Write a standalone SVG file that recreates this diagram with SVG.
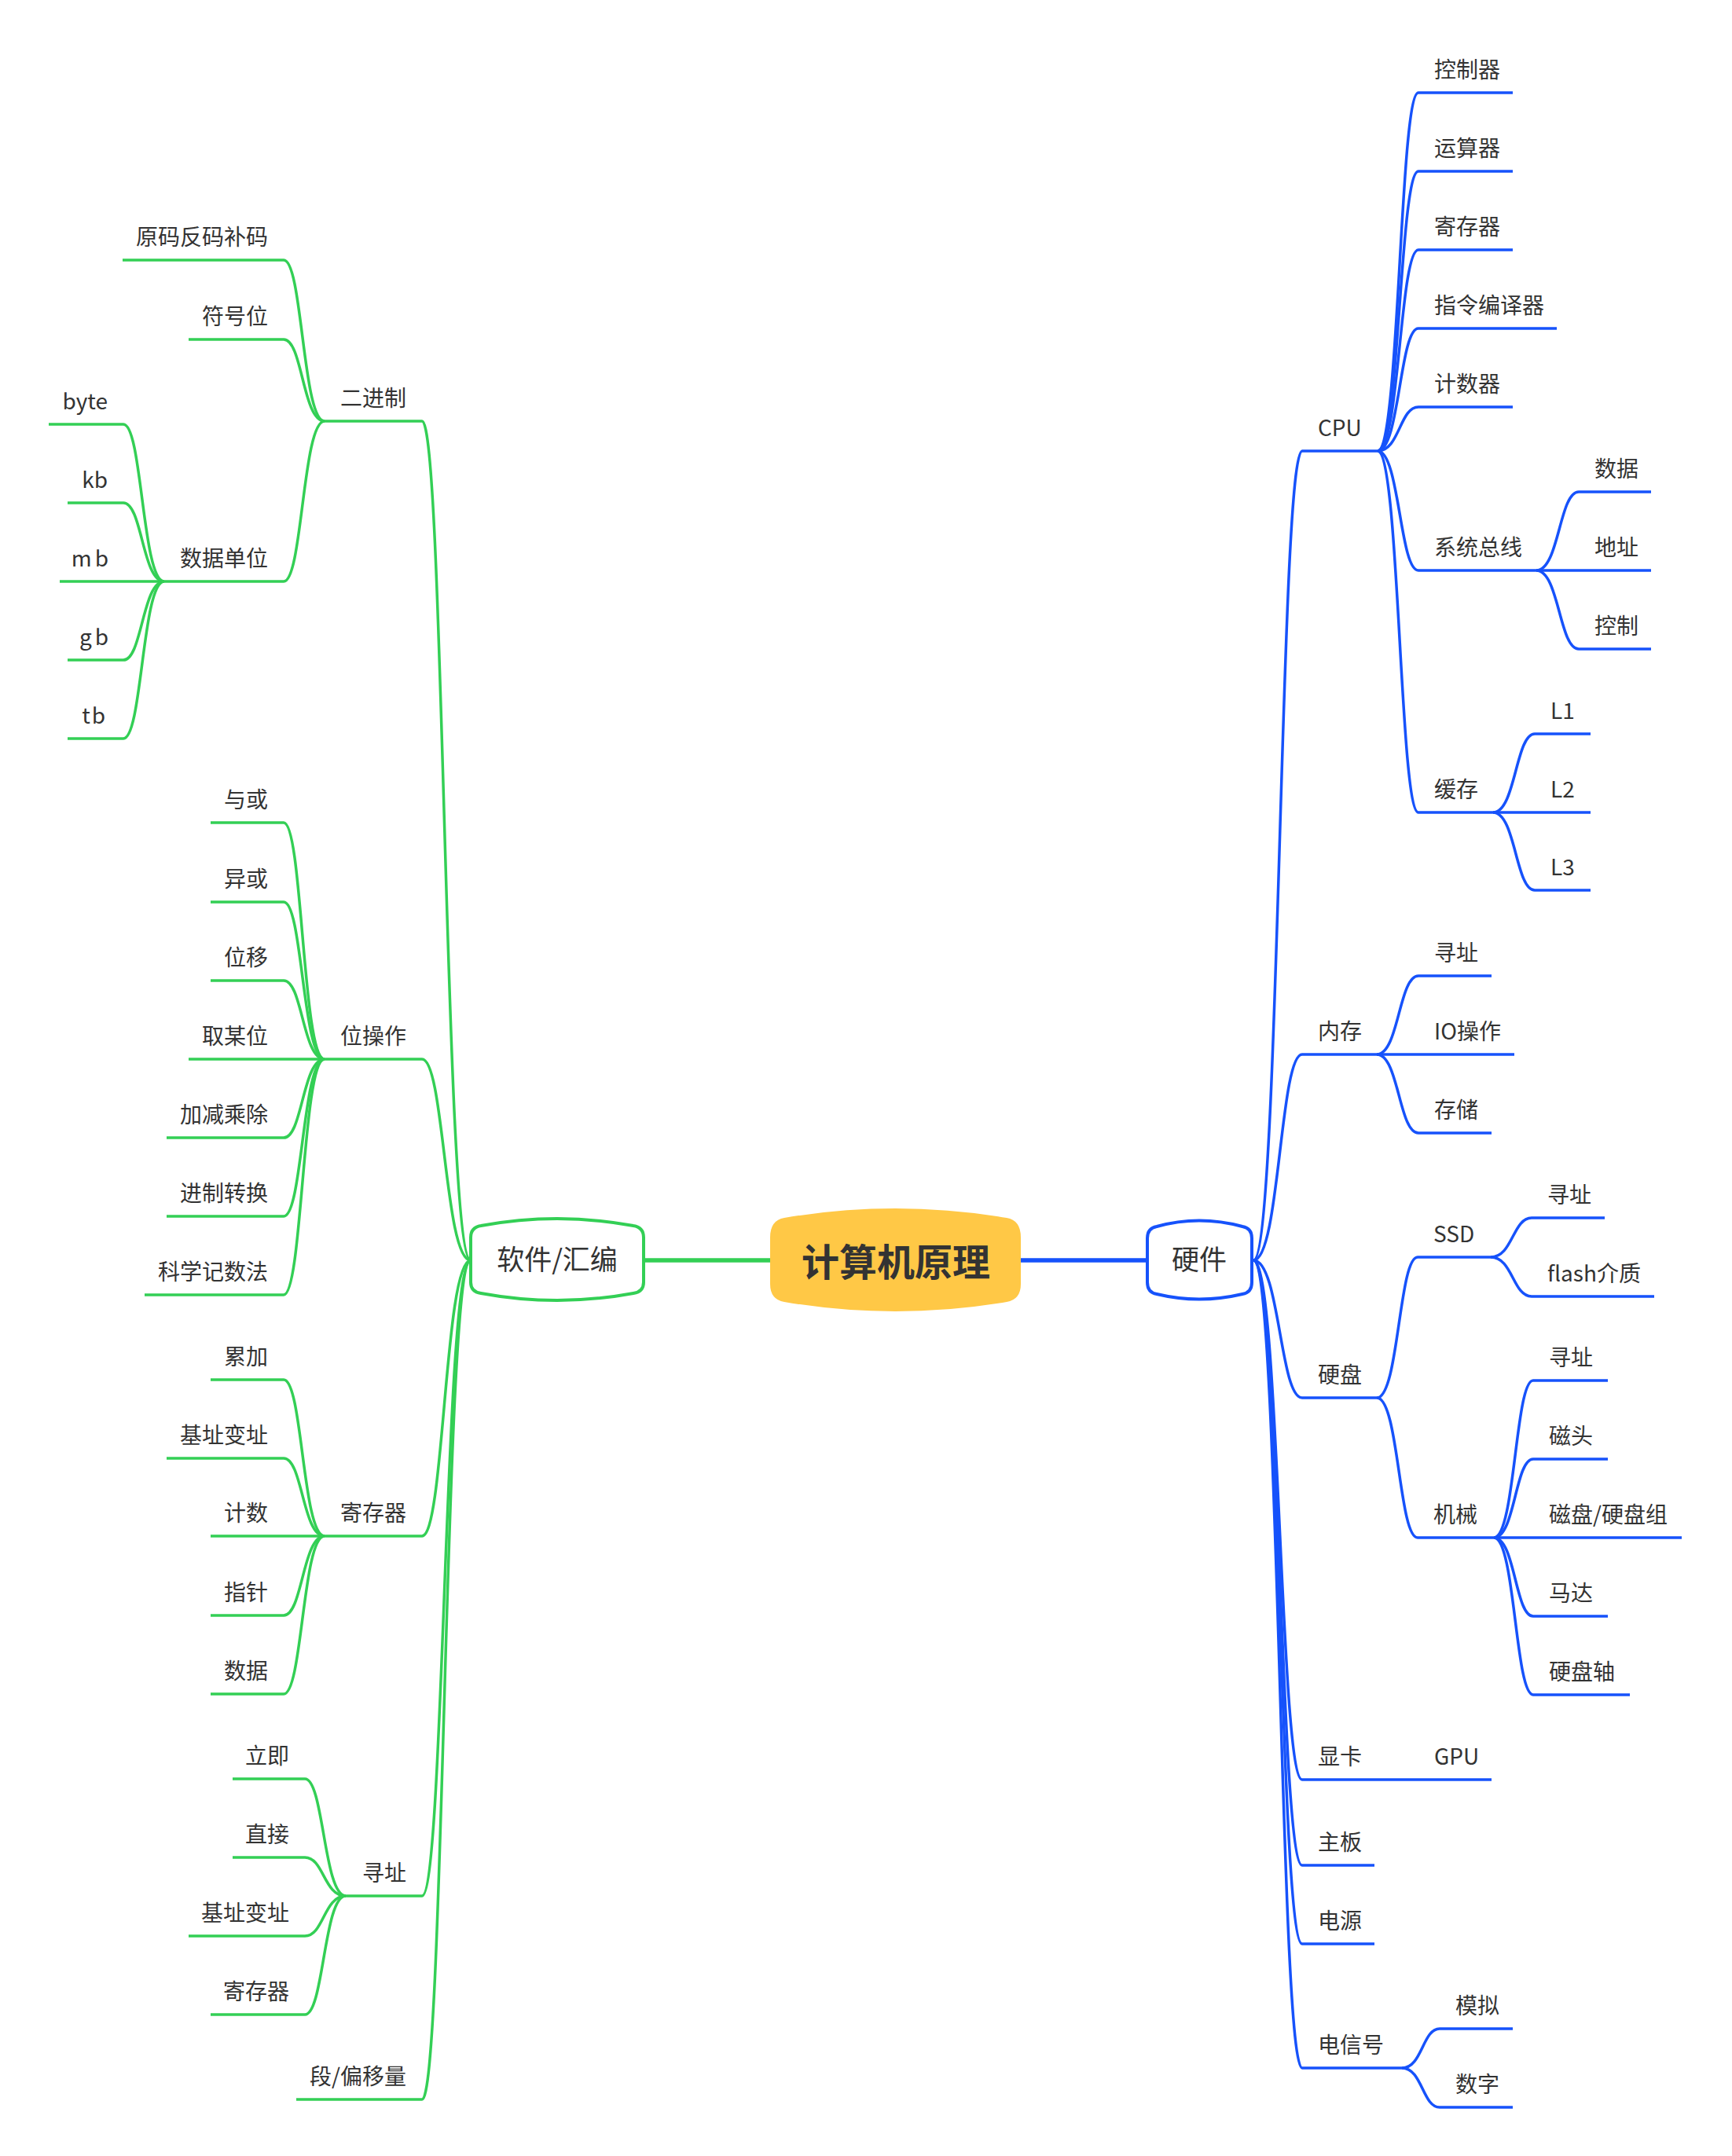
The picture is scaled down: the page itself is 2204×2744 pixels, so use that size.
<svg xmlns="http://www.w3.org/2000/svg" width="2204" height="2744" viewBox="0 0 2204 2744">
<style>
.t{font-family:"Noto Sans CJK SC","Noto Sans",sans-serif;font-size:28px;fill:#333333}
.e{text-anchor:end}
.m{text-anchor:middle}
.b{stroke:#1652FB;stroke-width:3.5;fill:none}
.g{stroke:#33CF55;stroke-width:3.5;fill:none}
.bb{stroke:#1652FB;stroke-width:5.5;fill:none}
.gb{stroke:#33CF55;stroke-width:5.5;fill:none}
</style>
<rect width="2204" height="2744" fill="#ffffff"/>
<g id="connectors">
<path class="bb" d="M1299 1604 H1460"/>
<path class="gb" d="M980 1604 H819"/>
<path class="b" d="M1595 1604 C1628.5 1604,1628.5 574,1657 574"/>
<path class="b" d="M1595 1604 C1628.5 1604,1628.5 1342,1657 1342"/>
<path class="b" d="M1595 1604 C1628.5 1604,1628.5 1779,1657 1779"/>
<path class="b" d="M1595 1604 C1628.5 1604,1628.5 2265,1657 2265"/>
<path class="b" d="M1595 1604 C1628.5 1604,1628.5 2374,1657 2374"/>
<path class="b" d="M1595 1604 C1628.5 1604,1628.5 2474,1657 2474"/>
<path class="b" d="M1595 1604 C1628.5 1604,1628.5 2632,1657 2632"/>
<path class="b" d="M1753 574 C1781 574,1781 118,1805 118"/>
<path class="b" d="M1753 574 C1781 574,1781 218,1805 218"/>
<path class="b" d="M1753 574 C1781 574,1781 318,1805 318"/>
<path class="b" d="M1753 574 C1781 574,1781 418,1805 418"/>
<path class="b" d="M1753 574 C1781 574,1781 518,1805 518"/>
<path class="b" d="M1753 574 C1781 574,1781 726,1805 726"/>
<path class="b" d="M1753 574 C1781 574,1781 1034,1805 1034"/>
<path class="b" d="M1955 726 C1984 726,1984 626,2009 626"/>
<path class="b" d="M1955 726 H2009"/>
<path class="b" d="M1955 726 C1984 726,1984 826,2009 826"/>
<path class="b" d="M1900 1034 C1928.6 1034,1928.6 934,1953 934"/>
<path class="b" d="M1900 1034 H1953"/>
<path class="b" d="M1900 1034 C1928.6 1034,1928.6 1133,1953 1133"/>
<path class="b" d="M1752 1342 C1780 1342,1780 1242,1805 1242"/>
<path class="b" d="M1752 1342 H1805"/>
<path class="b" d="M1752 1342 C1780 1342,1780 1442,1805 1442"/>
<path class="b" d="M1752 1779 C1780 1779,1780 1600,1804 1600"/>
<path class="b" d="M1752 1779 C1780 1779,1780 1957,1804 1957"/>
<path class="b" d="M1897 1600 C1925 1600,1925 1550,1949 1550"/>
<path class="b" d="M1897 1600 C1925 1600,1925 1650,1949 1650"/>
<path class="b" d="M1901 1957 C1928 1957,1928 1757,1951 1757"/>
<path class="b" d="M1901 1957 C1928 1957,1928 1857,1951 1857"/>
<path class="b" d="M1901 1957 H1951"/>
<path class="b" d="M1901 1957 C1928 1957,1928 2057,1951 2057"/>
<path class="b" d="M1901 1957 C1928 1957,1928 2157,1951 2157"/>
<path class="b" d="M1749 2265 H1805"/>
<path class="b" d="M1784 2632 C1810 2632,1810 2582,1832 2582"/>
<path class="b" d="M1784 2632 C1810 2632,1810 2682,1832 2682"/>
<path class="g" d="M599 1604 C565.5 1604,565.5 536,537 536"/>
<path class="g" d="M599 1604 C565.5 1604,565.5 1348,537 1348"/>
<path class="g" d="M599 1604 C565.5 1604,565.5 1955,537 1955"/>
<path class="g" d="M599 1604 C565.5 1604,565.5 2413,537 2413"/>
<path class="g" d="M599 1604 C565.5 1604,565.5 2672,537 2672"/>
<path class="g" d="M413 536 C385 536,385 331,361 331"/>
<path class="g" d="M413 536 C385 536,385 432,361 432"/>
<path class="g" d="M413 536 C385 536,385 740,361 740"/>
<path class="g" d="M209 740 C181 740,181 540,157 540"/>
<path class="g" d="M209 740 C181 740,181 640,157 640"/>
<path class="g" d="M209 740 H157"/>
<path class="g" d="M209 740 C181 740,181 840,157 840"/>
<path class="g" d="M209 740 C181 740,181 940,157 940"/>
<path class="g" d="M413 1348 C385 1348,385 1047,361 1047"/>
<path class="g" d="M413 1348 C385 1348,385 1148,361 1148"/>
<path class="g" d="M413 1348 C385 1348,385 1248,361 1248"/>
<path class="g" d="M413 1348 H361"/>
<path class="g" d="M413 1348 C385 1348,385 1448,361 1448"/>
<path class="g" d="M413 1348 C385 1348,385 1548,361 1548"/>
<path class="g" d="M413 1348 C385 1348,385 1648,361 1648"/>
<path class="g" d="M413 1955 C385 1955,385 1756,361 1756"/>
<path class="g" d="M413 1955 C385 1955,385 1856,361 1856"/>
<path class="g" d="M413 1955 H361"/>
<path class="g" d="M413 1955 C385 1955,385 2056,361 2056"/>
<path class="g" d="M413 1955 C385 1955,385 2156,361 2156"/>
<path class="g" d="M440 2413 C412 2413,412 2264,388 2264"/>
<path class="g" d="M440 2413 C412 2413,412 2364,388 2364"/>
<path class="g" d="M440 2413 C412 2413,412 2464,388 2464"/>
<path class="g" d="M440 2413 C412 2413,412 2564,388 2564"/>
</g>

<g id="root">
<path d="M980 1575 Q980 1553 998 1550 Q1139 1526 1281 1550 Q1299 1553 1299 1575 L1299 1634 Q1299 1654 1281 1657 Q1139 1681 998 1657 Q980 1654 980 1634 Z" fill="#FFC846"/>
<text class="t m" x="1140" y="1624" style="font-size:48px;font-weight:700">计算机原理</text>
</g>
<g id="hardware">
<path d="M1460 1576 Q1460 1563 1472 1561 Q1526 1546 1581 1561 Q1593 1563 1593 1576 L1593 1632 Q1593 1645 1581 1647 Q1526 1660 1472 1647 Q1460 1645 1460 1632 Z" fill="#ffffff" stroke="#1652FB" stroke-width="4"/>
<text class="t m" x="1526" y="1616" style="font-size:35px">硬件</text>
</g>
<g id="software">
<path d="M599 1575 Q599 1562 612 1560 Q709 1542 806 1560 Q819 1562 819 1575 L819 1632 Q819 1644 806 1646 Q709 1664 612 1646 Q599 1644 599 1632 Z" fill="#ffffff" stroke="#33CF55" stroke-width="4"/>
<text class="t m" x="709" y="1616" style="font-size:35px">软件/汇编</text>
</g>

<g id="n-cpu"><path class="b" d="M1657 574 H1753"/><text class="t" x="1677" y="555">CPU</text></g>
<g id="n-ctrl"><path class="b" d="M1805 118 H1925"/><text class="t" x="1825" y="99">控制器</text></g>
<g id="n-alu"><path class="b" d="M1805 218 H1925"/><text class="t" x="1825" y="199">运算器</text></g>
<g id="n-reg"><path class="b" d="M1805 318 H1925"/><text class="t" x="1825" y="299">寄存器</text></g>
<g id="n-inst"><path class="b" d="M1805 418 H1981"/><text class="t" x="1825" y="399">指令编译器</text></g>
<g id="n-cnt"><path class="b" d="M1805 518 H1925"/><text class="t" x="1825" y="499">计数器</text></g>
<g id="n-bus"><path class="b" d="M1805 726 H1955"/><text class="t" x="1825" y="707">系统总线</text></g>
<g id="n-bus-data"><path class="b" d="M2009 626 H2101"/><text class="t" x="2029" y="607">数据</text></g>
<g id="n-bus-addr"><path class="b" d="M2009 726 H2101"/><text class="t" x="2029" y="707">地址</text></g>
<g id="n-bus-ctrl"><path class="b" d="M2009 826 H2101"/><text class="t" x="2029" y="807">控制</text></g>
<g id="n-cache"><path class="b" d="M1805 1034 H1900"/><text class="t" x="1825" y="1015">缓存</text></g>
<g id="n-l1"><path class="b" d="M1953 934 H2024"/><text class="t" x="1973" y="915">L1</text></g>
<g id="n-l2"><path class="b" d="M1953 1034 H2024"/><text class="t" x="1973" y="1015">L2</text></g>
<g id="n-l3"><path class="b" d="M1953 1133 H2024"/><text class="t" x="1973" y="1114">L3</text></g>

<g id="n-mem"><path class="b" d="M1657 1342 H1752"/><text class="t" x="1677" y="1323">内存</text></g>
<g id="n-mem-addr"><path class="b" d="M1805 1242 H1898"/><text class="t" x="1825" y="1223">寻址</text></g>
<g id="n-mem-io"><path class="b" d="M1805 1342 H1927"/><text class="t" x="1825" y="1323">IO操作</text></g>
<g id="n-mem-store"><path class="b" d="M1805 1442 H1898"/><text class="t" x="1825" y="1423">存储</text></g>

<g id="n-disk"><path class="b" d="M1657 1779 H1752"/><text class="t" x="1677" y="1760">硬盘</text></g>
<g id="n-ssd"><path class="b" d="M1804 1600 H1897"/><text class="t" x="1824" y="1581">SSD</text></g>
<g id="n-ssd-addr"><path class="b" d="M1949 1550 H2042"/><text class="t" x="1969" y="1531">寻址</text></g>
<g id="n-ssd-flash"><path class="b" d="M1949 1650 H2105"/><text class="t" x="1969" y="1631">flash介质</text></g>
<g id="n-mech"><path class="b" d="M1804 1957 H1901"/><text class="t" x="1824" y="1938">机械</text></g>
<g id="n-mech-addr"><path class="b" d="M1951 1757 H2046"/><text class="t" x="1971" y="1738">寻址</text></g>
<g id="n-mech-head"><path class="b" d="M1951 1857 H2046"/><text class="t" x="1971" y="1838">磁头</text></g>
<g id="n-mech-plat"><path class="b" d="M1951 1957 H2140"/><text class="t" x="1971" y="1938">磁盘/硬盘组</text></g>
<g id="n-mech-motor"><path class="b" d="M1951 2057 H2046"/><text class="t" x="1971" y="2038">马达</text></g>
<g id="n-mech-axis"><path class="b" d="M1951 2157 H2074"/><text class="t" x="1971" y="2138">硬盘轴</text></g>

<g id="n-card"><path class="b" d="M1657 2265 H1749"/><text class="t" x="1677" y="2246">显卡</text></g>
<g id="n-gpu"><path class="b" d="M1805 2265 H1898"/><text class="t" x="1825" y="2246">GPU</text></g>
<g id="n-board"><path class="b" d="M1657 2374 H1749"/><text class="t" x="1677" y="2355">主板</text></g>
<g id="n-power"><path class="b" d="M1657 2474 H1749"/><text class="t" x="1677" y="2455">电源</text></g>
<g id="n-signal"><path class="b" d="M1657 2632 H1784"/><text class="t" x="1677" y="2613">电信号</text></g>
<g id="n-analog"><path class="b" d="M1832 2582 H1925"/><text class="t" x="1852" y="2563">模拟</text></g>
<g id="n-digital"><path class="b" d="M1832 2682 H1925"/><text class="t" x="1852" y="2663">数字</text></g>

<g id="n-bin"><path class="g" d="M413 536 H537"/><text class="t e" x="517" y="517">二进制</text></g>
<g id="n-code"><path class="g" d="M156 331 H361"/><text class="t e" x="341" y="312">原码反码补码</text></g>
<g id="n-sign"><path class="g" d="M240 432 H361"/><text class="t e" x="341" y="413">符号位</text></g>
<g id="n-unit"><path class="g" d="M209 740 H361"/><text class="t e" x="341" y="721">数据单位</text></g>
<g id="n-byte"><path class="g" d="M62 540 H157"/><text class="t e" x="137" y="521">byte</text></g>
<g id="n-kb"><path class="g" d="M86 640 H157"/><text class="t e" x="137" y="621">kb</text></g>
<g id="n-mb"><path class="g" d="M76 740 H157"/><text class="t e" x="138" y="721">m<tspan dx="4">b</tspan></text></g>
<g id="n-gb"><path class="g" d="M86 840 H157"/><text class="t e" x="138" y="821">g<tspan dx="4">b</tspan></text></g>
<g id="n-tb"><path class="g" d="M86 940 H157"/><text class="t e" x="134" y="921">t<tspan dx="2">b</tspan></text></g>

<g id="n-bitop"><path class="g" d="M413 1348 H537"/><text class="t e" x="517" y="1329">位操作</text></g>
<g id="n-andor"><path class="g" d="M268 1047 H361"/><text class="t e" x="341" y="1028">与或</text></g>
<g id="n-xor"><path class="g" d="M268 1148 H361"/><text class="t e" x="341" y="1129">异或</text></g>
<g id="n-shift"><path class="g" d="M268 1248 H361"/><text class="t e" x="341" y="1229">位移</text></g>
<g id="n-getbit"><path class="g" d="M240 1348 H361"/><text class="t e" x="341" y="1329">取某位</text></g>
<g id="n-arith"><path class="g" d="M212 1448 H361"/><text class="t e" x="341" y="1429">加减乘除</text></g>
<g id="n-radix"><path class="g" d="M212 1548 H361"/><text class="t e" x="341" y="1529">进制转换</text></g>
<g id="n-sci"><path class="g" d="M184 1648 H361"/><text class="t e" x="341" y="1629">科学记数法</text></g>

<g id="n-regs"><path class="g" d="M413 1955 H537"/><text class="t e" x="517" y="1936">寄存器</text></g>
<g id="n-acc"><path class="g" d="M268 1756 H361"/><text class="t e" x="341" y="1737">累加</text></g>
<g id="n-base"><path class="g" d="M212 1856 H361"/><text class="t e" x="341" y="1837">基址变址</text></g>
<g id="n-count"><path class="g" d="M268 1955 H361"/><text class="t e" x="341" y="1936">计数</text></g>
<g id="n-ptr"><path class="g" d="M268 2056 H361"/><text class="t e" x="341" y="2037">指针</text></g>
<g id="n-data"><path class="g" d="M268 2156 H361"/><text class="t e" x="341" y="2137">数据</text></g>

<g id="n-addr"><path class="g" d="M440 2413 H537"/><text class="t e" x="517" y="2394">寻址</text></g>
<g id="n-imm"><path class="g" d="M296 2264 H388"/><text class="t e" x="368" y="2245">立即</text></g>
<g id="n-direct"><path class="g" d="M296 2364 H388"/><text class="t e" x="368" y="2345">直接</text></g>
<g id="n-baseidx"><path class="g" d="M240 2464 H388"/><text class="t e" x="368" y="2445">基址变址</text></g>
<g id="n-regaddr"><path class="g" d="M268 2564 H388"/><text class="t e" x="368" y="2545">寄存器</text></g>

<g id="n-seg"><path class="g" d="M377 2672 H537"/><text class="t e" x="517" y="2653">段/偏移量</text></g>
</svg>
